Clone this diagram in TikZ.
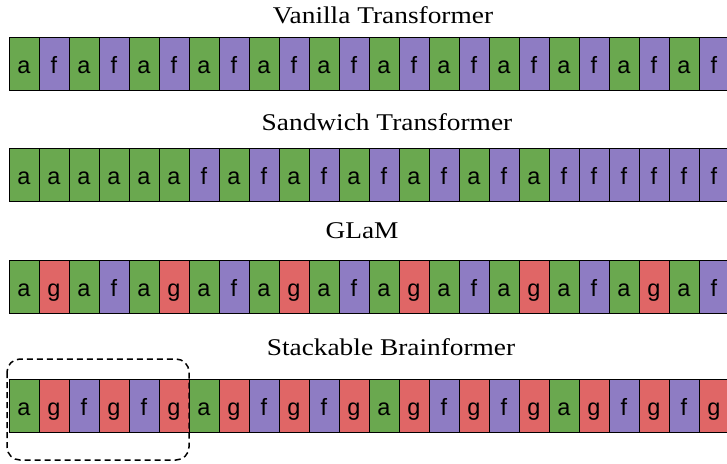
\documentclass[tikz,border=0pt]{standalone}
\usepackage{fontspec}
\setmainfont{Liberation Serif}
\newfontfamily\titlefont[FakeStretch=1.14]{Liberation Serif}
\newfontfamily\cellfont{Liberation Sans}
\definecolor{cgreen}{HTML}{6AA84F}
\definecolor{cpurple}{HTML}{8E7CC3}
\definecolor{cred}{HTML}{E06666}
\tikzset{
  cellbox/.style={draw=black, line width=0.9pt, minimum width=30pt, minimum height=53pt, inner sep=0pt, outer sep=0pt, anchor=north west},
  ca/.style={cellbox, fill=cgreen},
  cf/.style={cellbox, fill=cpurple},
  cg/.style={cellbox, fill=cred},
  celltxt/.style={font=\cellfont\fontsize{23.5}{25}\selectfont, anchor=base, inner sep=0pt},
  rowtitle/.style={font=\titlefont\fontsize{24}{26}\selectfont, anchor=base, inner sep=0pt},
  groupbox/.style={draw=black, line width=1.5pt, dash pattern=on 6pt off 4pt, rounded corners=13pt}
}
\newcommand{\cellrow}[3]{%
  \foreach \t [count=\i from 0] in {#3} {%
    \node[c\t] (#1-\i) at (9+30*\i, #2) {};
    \node[celltxt] (#1-\i-t) at (24+30*\i, #2+36) {\t};
  }%
}
\begin{document}
\begin{tikzpicture}[x=1pt, y=-1pt]
\useasboundingbox (0,0) rectangle (727,463);
\begin{scope}
\clip (0,0) rectangle (727,463);
\node[rowtitle] (t1) at (383,23) {Vanilla Transformer};
\cellrow{r1}{37}{a,f,a,f,a,f,a,f,a,f,a,f,a,f,a,f,a,f,a,f,a,f,a,f}
\node[rowtitle] (t2) at (387,130) {Sandwich Transformer};
\cellrow{r2}{148}{a,a,a,a,a,a,f,a,f,a,f,a,f,a,f,a,f,a,f,f,f,f,f,f}
\node[rowtitle] (t3) at (362,238) {GLaM};
\cellrow{r3}{260}{a,g,a,f,a,g,a,f,a,g,a,f,a,g,a,f,a,g,a,f,a,g,a,f}
\node[rowtitle] (t4) at (391,355) {Stackable Brainformer};
\cellrow{r4}{379}{a,g,f,g,f,g,a,g,f,g,f,g,a,g,f,g,f,g,a,g,f,g,f,g}
\draw[groupbox] (7,359) rectangle (189,460);
\end{scope}
\end{tikzpicture}
\end{document}
